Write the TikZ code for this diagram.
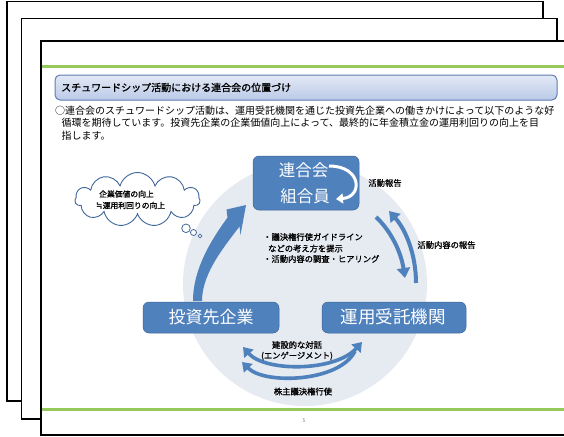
\documentclass[tikz,border=0pt]{standalone}
\usepackage{fontspec}
\setmainfont{Noto Sans CJK JP}[AutoFakeBold=1.2]
\newfontfamily\symfont{DejaVu Sans}
\usetikzlibrary{arrows.meta,shapes.symbols}
\definecolor{ofblue}{HTML}{4F81BD}
\definecolor{lgreen}{HTML}{96C85A}
\definecolor{circfill}{HTML}{E6EAF1}
\definecolor{tborder}{HTML}{5F7DB2}
\definecolor{ttop}{HTML}{E3E9F6}
\definecolor{tbot}{HTML}{BBCAE8}
\definecolor{cloudline}{HTML}{41679A}
\tikzset{
  page/.style={draw=black, fill=white, line width=1.6pt},
  bluebox/.style={fill=ofblue, draw=ofblue!80!black, line width=0.5pt, rounded corners=6pt, inner sep=0pt},
  boxtext/.style={text=white, font=\fontsize{16.5}{18}\selectfont, inner sep=0pt},
  lbl/.style={font=\fontsize{8.3}{10}\selectfont\bfseries, inner sep=0pt},
  cloudtext/.style={font=\fontsize{7.8}{9}\selectfont\bfseries, inner sep=0pt, anchor=west},
  body/.style={font=\fontsize{10}{12}\selectfont, inner sep=0pt, anchor=west},
  bluearrow/.style={draw=ofblue, line width=4pt, -{Triangle[width=13pt,length=10pt]}},
  bluearrowb/.style={draw=ofblue, line width=3.6pt, {Triangle[width=12pt,length=9pt]}-{Triangle[width=12pt,length=9pt]}},
  bluearrowl/.style={draw=ofblue, line width=3.6pt, {Triangle[width=12pt,length=9pt]}-},
}
\begin{document}
\begin{tikzpicture}[x=1pt,y=-1pt]
\useasboundingbox (0,0) rectangle (564,436);
% stacked pages
\draw[page] (7,1.5) rectangle (543,401);
\draw[page] (21.5,18.5) rectangle (557,419);
\draw[page] (41,41) rectangle (580,435);
% green rules
\draw[lgreen, line width=3pt] (41.8,66) -- (564,66);
\draw[lgreen, line width=3pt] (41.8,409) -- (564,409);
% title box
\shade[top color=ttop, bottom color=tbot, rounded corners=5pt] (55,75) rectangle (557,100);
\draw[tborder, line width=1pt, rounded corners=5pt] (55,75) rectangle (557,100);
\node[font=\fontsize{10}{12}\selectfont\bfseries, anchor=west, inner sep=0pt] (title) at (61,87.5) {スチュワードシップ活動における連合会の位置づけ};
% body text
\node[body] (l1) at (55,110.8) {○連合会のスチュワードシップ活動は、運用受託機関を通じた投資先企業への働きかけによって以下のような好};
\node[body] (l2) at (61.5,123.2) {循環を期待しています。投資先企業の企業価値向上によって、最終的に年金積立金の運用利回りの向上を目};
\node[body] (l3) at (61.5,135.5) {指します。};
% big circle
\fill[circfill] (305,284) circle (122);
% cloud
\node[cloud, cloud puffs=11, aspect=2.3, draw=cloudline, fill=white, line width=0.9pt, minimum width=125pt, minimum height=54pt, inner sep=0pt] (cloud) at (137.5,199.5) {};
\node[cloudtext] (c1) at (99,194) {企業価値の向上};
\node[cloudtext] (c2) at (96,205.5) {{\symfont ≒}運用利回りの向上};
\draw[cloudline, fill=white, line width=0.8pt] (186,228.3) circle (4.3);
\draw[cloudline, fill=white, line width=0.8pt] (193.5,232.5) circle (3);
\draw[cloudline, fill=white, line width=0.8pt] (200,236) circle (1.9);
% boxes
\node[bluebox, minimum width=106pt, minimum height=54pt] (ren) at (306,183) {};
\node[boxtext] (renA) at (303.5,170.5) {連合会};
\node[boxtext] (renB) at (305,196.5) {組合員};
\coordinate (wa) at (329,166);
\coordinate (wb) at (336,199);
\draw[white, line width=3pt, -{Triangle[width=10pt,length=7pt]}] (wa) .. controls (362,166) and (363,197) .. (wb);
\node[bluebox, minimum width=136pt, minimum height=31pt] (toshi) at (211,317.5) {};
\node[boxtext, font=\fontsize{17}{19}\selectfont] at (211,317) {投資先企業};
\node[bluebox, minimum width=144pt, minimum height=31pt] (unyo) at (394,317.5) {};
\node[boxtext, font=\fontsize{17.5}{19}\selectfont] at (393,317) {運用受託機関};
% big curved arrow (investee -> union)
\fill[ofblue] (193,301) .. controls (193,268) and (212.7,237.8) .. (227.5,217.6)
  -- (226.5,209.5) -- (246,205) -- (240.5,235) -- (239.5,226.4)
  .. controls (226.5,244.1) and (202,272) .. (202,301) -- cycle;
% right arrows
\coordinate (r1s) at (376,217);
\coordinate (r1e) at (405,278);
\coordinate (r2s) at (416,283);
\coordinate (r2e) at (389,211);
\draw[bluearrow] (r1s) .. controls (391,231) and (401,252) .. (r1e);
\draw[bluearrow] (r2s) .. controls (416,255) and (406,230) .. (r2e);
% bottom arrows
\coordinate (b1s) at (243,347);
\coordinate (b1e) at (362,342);
\coordinate (b2s) at (355,351);
\coordinate (b2e) at (242,362);
\draw[bluearrowb] (b1s) .. controls (265,372) and (335,372) .. (b1e);
\draw[bluearrowl] (b2e) .. controls (265,385) and (340,382) .. (b2s);
% labels
\node[lbl] (k1) at (385,183) {活動報告};
\node[lbl] (k2) at (446.5,245) {活動内容の報告};
\node[lbl, anchor=west] (m1) at (263,237) {・議決権行使ガイドライン};
\node[lbl, anchor=west] (m2) at (268,248.5) {などの考え方を提示};
\node[lbl, anchor=west] (m3) at (263,259) {・活動内容の調査・ヒアリング};
\node[lbl] (e1) at (297,345) {建設的な対話};
\node[lbl] (e2) at (297,356) {(エンゲージメント)};
\node[lbl] (e3) at (303,391.5) {株主議決権行使};
\node[font=\fontsize{5}{6}\selectfont, text=gray, inner sep=0pt] (pg) at (304,421) {5};
\end{tikzpicture}
\end{document}
